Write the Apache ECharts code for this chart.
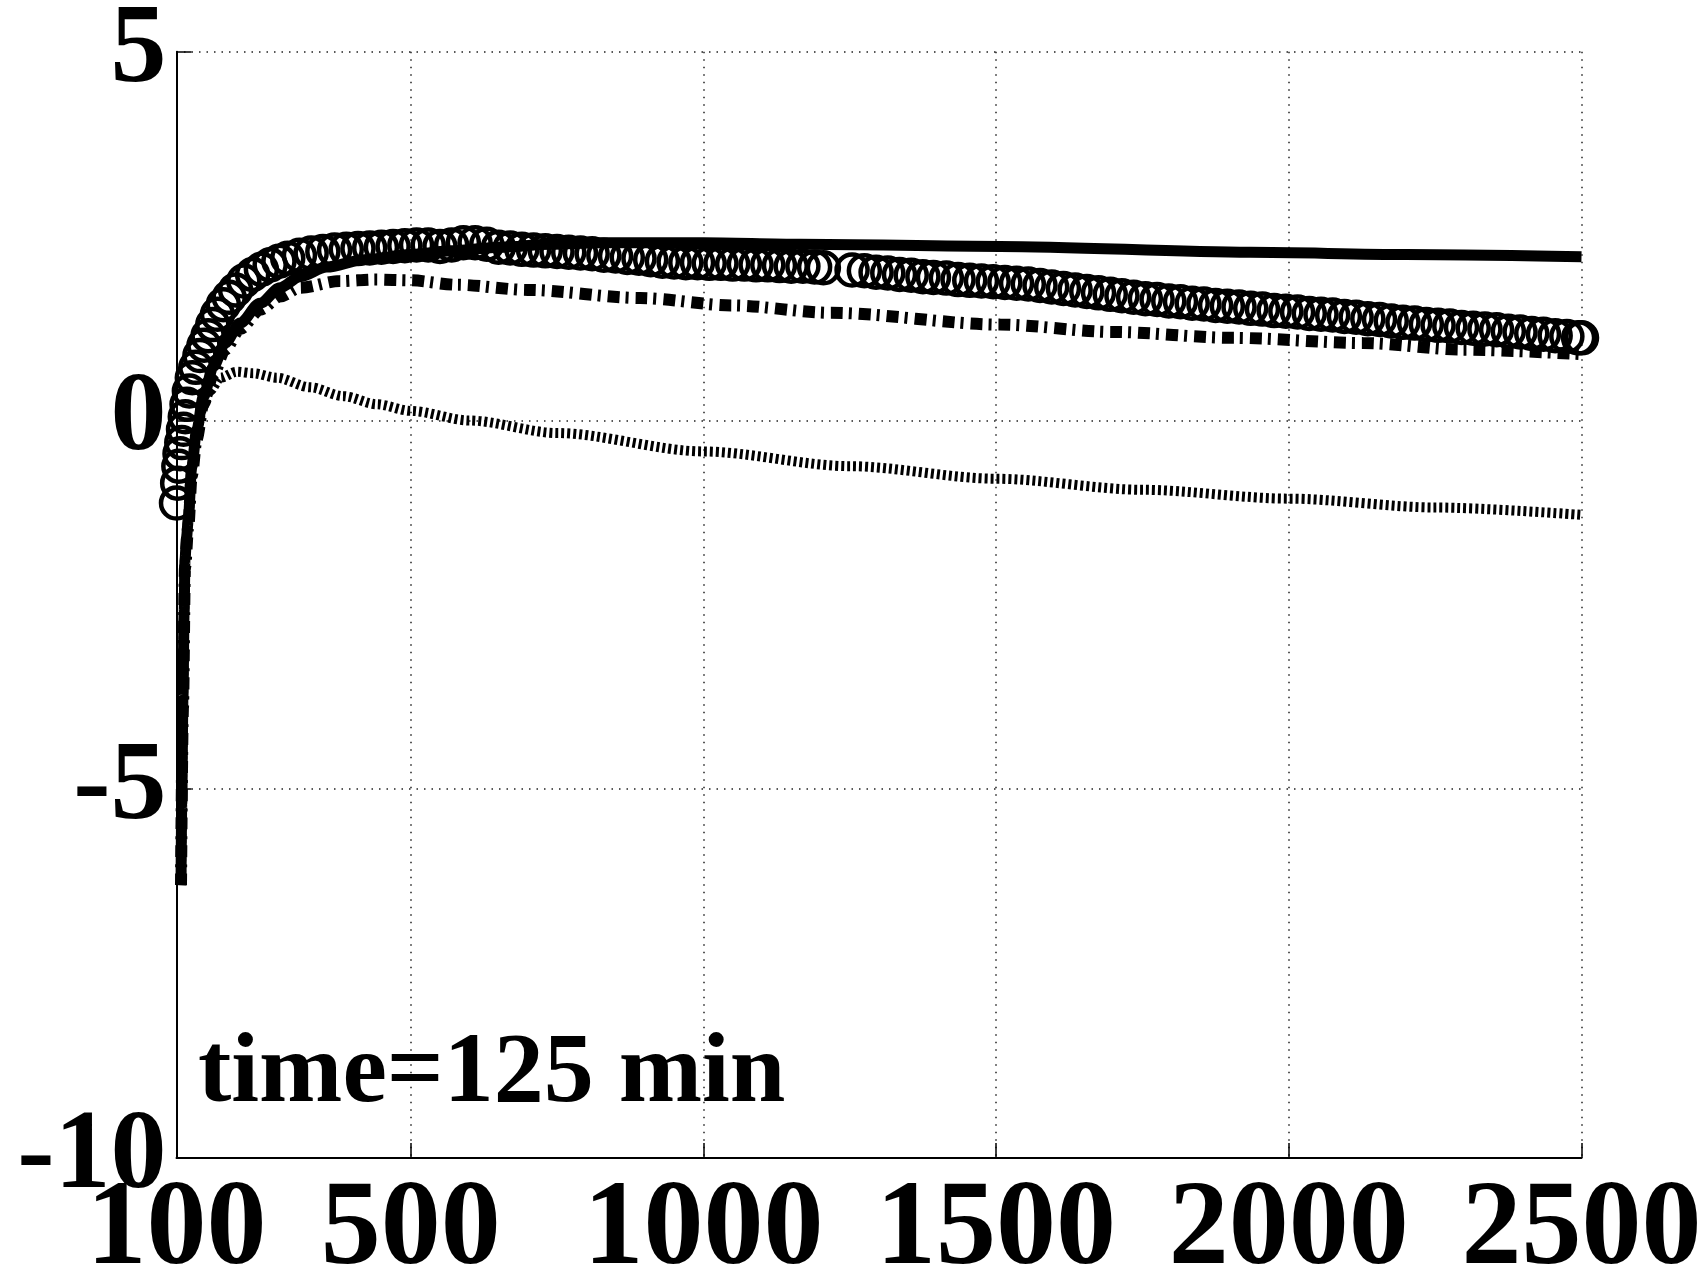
<!DOCTYPE html>
<html>
<head>
<meta charset="utf-8">
<script src="https://cdn.jsdelivr.net/npm/echarts@6/dist/echarts.min.js"></script>
<style>
  html, body { margin: 0; padding: 0; background: #fff; }
  #main { width: 1699px; height: 1280px; }
</style>
</head>
<body>
<div id="main"></div>
<script>
// tick labels
var xTicks = [100, 500, 1000, 1500, 2000, 2500];
var yMin = -10, yMax = 5, yStep = 5;
var note = 'time=125 min';

// circles: measured values (two segments, gap near 1230)
var measured = [
    [100,-1.12],[102,-0.85],[104,-0.62],[106,-0.45],[109,-0.30],[112,-0.12],[115,0.05],[118,0.22],
    [122,0.40],[127,0.58],[133,0.72],[140,0.88],[147,1.02],[154,1.15],[162,1.30],[170,1.44],
    [180,1.57],[190,1.67],[201,1.77],[215,1.89],[230,1.98],[245,2.05],[260,2.11],[275,2.16],
    [290,2.20],[310,2.24],[330,2.27],[350,2.29],[370,2.31],[390,2.32],[410,2.33],[430,2.34],
    [450,2.35],[470,2.36],[490,2.37],[510,2.38],[530,2.38],[550,2.36],[570,2.38],[590,2.41],
    [610,2.41],[630,2.39],[650,2.35],[670,2.34],[690,2.32],[710,2.31],[730,2.30],[750,2.29],
    [770,2.28],[790,2.27],[810,2.26],[830,2.24],[850,2.23],[870,2.21],[890,2.20],[910,2.18],
    [930,2.16],[950,2.15],[970,2.14],[990,2.14],[1010,2.13],[1030,2.13],[1050,2.12],[1070,2.12],
    [1090,2.11],[1110,2.11],[1130,2.10],[1150,2.09],[1170,2.09],[1190,2.08],[1205,2.07],
    [1254,2.04],[1275,2.03],[1295,2.01],[1315,2.00],[1335,1.98],[1355,1.97],[1375,1.95],[1393,1.94],
    [1415,1.93],[1435,1.91],[1455,1.90],[1475,1.89],[1495,1.88],[1515,1.87],[1535,1.86],[1555,1.85],
    [1575,1.83],[1595,1.81],[1615,1.79],[1635,1.77],[1655,1.75],[1675,1.73],[1695,1.71],[1715,1.69],
    [1735,1.67],[1755,1.65],[1775,1.64],[1795,1.62],[1815,1.61],[1835,1.59],[1855,1.58],[1875,1.56],
    [1895,1.55],[1915,1.54],[1935,1.52],[1955,1.51],[1975,1.49],[1995,1.48],[2015,1.47],[2035,1.45],
    [2055,1.44],[2075,1.43],[2095,1.41],[2115,1.40],[2135,1.38],[2155,1.37],[2175,1.35],[2195,1.33],
    [2215,1.32],[2235,1.30],[2255,1.29],[2275,1.28],[2295,1.26],[2315,1.25],[2335,1.24],[2355,1.23],
    [2375,1.21],[2395,1.20],[2415,1.18],[2435,1.17],[2455,1.15],[2475,1.14],[2495,1.12],[2500,1.12]
];

// solid thick line
var solidLine = [
    [107.7,-6.30],[109,-5.2],[111,-3.79],[113,-2.6],[114.5,-1.89],[117,-1.6],[120,-1.35],[126,-0.63],
    [134.5,-0.13],[145.8,0.32],[162.9,0.73],[182.9,1.05],[208.5,1.32],[242.7,1.59],[276.9,1.80],
    [311,1.95],[356.7,2.08],[420,2.18],[499,2.25],[570,2.30],[652.8,2.35],[740,2.39],[823.7,2.41],
    [1000,2.41],[1165,2.39],[1507,2.36],[1934,2.28],[2200,2.25],[2500,2.22]
];

// dash-dot line
var dashDotLine = [
    [107.7,-6.30],[111,-3.9],[114.5,-2.0],[120,-1.45],[126,-0.75],[134.5,-0.25],[145.8,0.22],
    [162.9,0.63],[182.9,0.96],[208.5,1.24],[242.7,1.50],[276.9,1.68],[311,1.80],[379,1.89],
    [440,1.91],[499,1.90],[579,1.84],[700,1.77],[892,1.66],[1050,1.56],[1217,1.46],[1507,1.30],
    [1700,1.20],[1905,1.12],[2127,1.05],[2298,0.96],[2500,0.90]
];

// dotted line
var dottedLine = [
    [107.7,-6.30],[109,-5.2],[111,-3.79],[113,-2.6],[114.5,-1.89],[117,-1.6],[120,-1.35],[126,-0.63],
    [134.5,-0.15],[145,0.18],[157,0.40],[175,0.58],[203,0.66],[231,0.64],[271,0.58],[328,0.45],
    [385,0.33],[442,0.22],[500,0.13],[600,0.0],[750,-0.17],[1000,-0.42],[1250,-0.62],[1500,-0.79],
    [1750,-0.94],[2000,-1.06],[2250,-1.18],[2500,-1.28]
];

var serif = "'Liberation Serif', 'Times New Roman', serif";

var myChart = echarts.init(document.getElementById('main'));

var gridDots = {show: true, lineStyle: {color: '#222', width: 1.5, type: [1.5, 6]}};

var option = {
    backgroundColor: '#fff',
    animation: false,
    grid: {left: 176.5, right: 117.5, top: 51.7, bottom: 122, outerBoundsMode: 'none'},
    xAxis: {
        type: 'value',
        min: xTicks[0],
        max: xTicks[xTicks.length - 1],
        axisLine: {show: true, onZero: false, lineStyle: {color: '#000', width: 2}},
        axisTick: {show: true, inside: true, length: 15, customValues: xTicks, lineStyle: {color: '#000', width: 1.5}},
        axisLabel: {
            customValues: xTicks,
            showMinLabel: true, showMaxLabel: true,
            margin: 14,
            formatter: function (v) { return String(v); },
            color: '#000', fontFamily: serif, fontWeight: 'bold', fontSize: 120
        },
        splitLine: gridDots
    },
    yAxis: {
        type: 'value',
        min: yMin, max: yMax, interval: yStep,
        axisLine: {show: true, onZero: false, lineStyle: {color: '#000', width: 2}},
        axisTick: {show: true, inside: true, length: 15, lineStyle: {color: '#000', width: 1.5}},
        axisLabel: {
            showMinLabel: true, showMaxLabel: true,
            margin: 10,
            color: '#000', fontFamily: serif, fontWeight: 'bold', fontSize: 112
        },
        splitLine: gridDots
    },
    graphic: [{
        type: 'text',
        left: 198,
        top: 1025,
        z: 100,
        style: {text: note, fill: '#000', font: 'bold 100px ' + serif}
    }],
    series: [
        {
            name: 'measured',
            type: 'scatter',
            data: measured,
            symbol: 'circle',
            symbolSize: 31,
            itemStyle: {color: 'rgba(0,0,0,0)', borderColor: '#000', borderWidth: 4.5, opacity: 1},
            z: 2
        },
        {
            name: 'solid',
            type: 'line',
            data: solidLine,
            showSymbol: false,
            smooth: 0.3,
            smoothMonotone: 'x',
            lineStyle: {color: '#000', width: 11, type: 'solid'},
            z: 4
        },
        {
            name: 'dashdot',
            type: 'line',
            data: dashDotLine,
            showSymbol: false,
            smooth: 0.3,
            smoothMonotone: 'x',
            lineStyle: {color: '#000', width: 12, type: [12, 6, 3, 7], cap: 'butt'},
            z: 3
        },
        {
            name: 'dotted',
            type: 'line',
            data: dottedLine,
            showSymbol: false,
            smooth: 0.3,
            smoothMonotone: 'x',
            lineStyle: {color: '#000', width: 10, type: [3, 3], cap: 'butt'},
            z: 3
        }
    ]
};

myChart.setOption(option);
</script>
</body>
</html>
